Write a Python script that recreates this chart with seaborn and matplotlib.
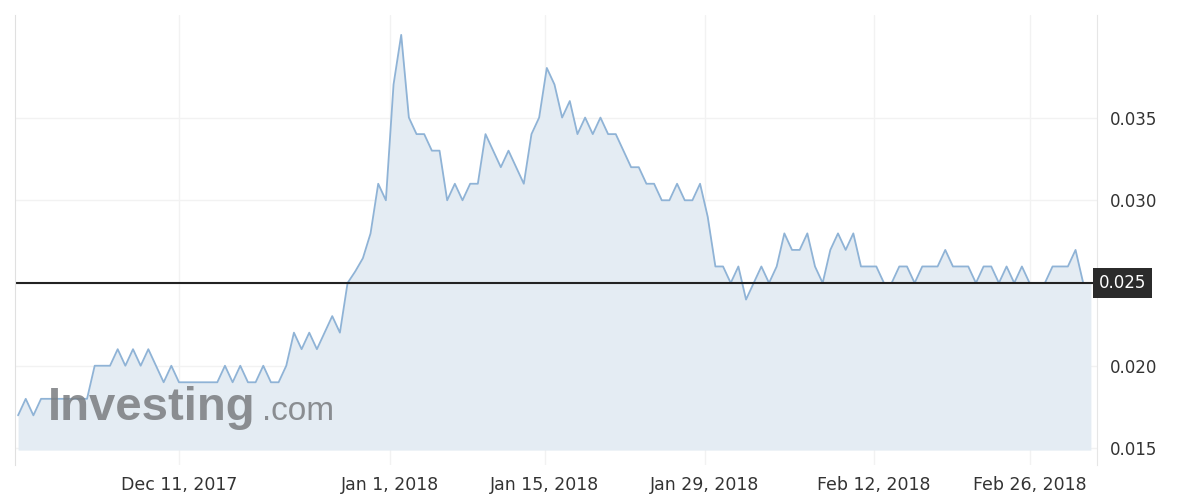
#!/usr/bin/env python3
"""Price chart, Nov 2017 - Feb 2018, investing.com style."""

import matplotlib
matplotlib.use("Agg")
import matplotlib.pyplot as plt
import pandas as pd
import seaborn as sns

PRICES = [
    0.017, 0.018, 0.017, 0.018, 0.018, 0.018, 0.018, 0.018, 0.018, 0.018,
    0.020, 0.020, 0.020, 0.021, 0.020, 0.021, 0.020, 0.021, 0.020, 0.019,
    0.020, 0.019, 0.019, 0.019, 0.019, 0.019, 0.019, 0.020, 0.019, 0.020,
    0.019, 0.019, 0.020, 0.019, 0.019, 0.020, 0.022, 0.021, 0.022, 0.021,
    0.022, 0.023, 0.022, 0.025, 0.0257, 0.0265, 0.028, 0.031, 0.030, 0.037,
    0.040, 0.035, 0.034, 0.034, 0.033, 0.033, 0.030, 0.031, 0.030, 0.031,
    0.031, 0.034, 0.033, 0.032, 0.033, 0.032, 0.031, 0.034, 0.035, 0.038,
    0.037, 0.035, 0.036, 0.034, 0.035, 0.034, 0.035, 0.034, 0.034, 0.033,
    0.032, 0.032, 0.031, 0.031, 0.030, 0.030, 0.031, 0.030, 0.030, 0.031,
    0.029, 0.026, 0.026, 0.025, 0.026, 0.024, 0.025, 0.026, 0.025, 0.026,
    0.028, 0.027, 0.027, 0.028, 0.026, 0.025, 0.027, 0.028, 0.027, 0.028,
    0.026, 0.026, 0.026, 0.025, 0.025, 0.026, 0.026, 0.025, 0.026, 0.026,
    0.026, 0.027, 0.026, 0.026, 0.026, 0.025, 0.026, 0.026, 0.025, 0.026,
    0.025, 0.026, 0.025, 0.025, 0.025, 0.026, 0.026, 0.026, 0.027, 0.025,
    0.025,
]
DATE_LABELS = ["Dec 11, 2017", "Jan 1, 2018", "Jan 15, 2018",
               "Jan 29, 2018", "Feb 12, 2018", "Feb 26, 2018"]
DATE_IDX = [21, 48.6, 68.7, 89.6, 111.7, 132]
Y_TICKS = [0.015, 0.020, 0.025, 0.030, 0.035]
LAST = 0.025


def main():
    df = pd.DataFrame({"i": range(len(PRICES)), "price": PRICES})

    sns.set_style("white")
    fig = plt.figure(figsize=(11.77, 4.95), dpi=100)
    ax = fig.add_axes([15 / 1177, 30 / 495, (1097 - 15) / 1177, (465 - 15) / 495])

    ax.fill_between(df["i"], 0.0149, df["price"], color="#e4ecf3", lw=0)
    sns.lineplot(data=df, x="i", y="price", ax=ax, color="#8fb3d6", lw=1.3)

    ax.set_xlim(-0.4, len(PRICES) - 0.2)
    ax.set_ylim(0.0140, 0.0412)
    ax.yaxis.tick_right()
    ax.set_yticks(Y_TICKS)
    # the current-price box replaces the 0.025 label
    ax.set_yticklabels(["" if v == LAST else f"{v:.3f}" for v in Y_TICKS],
                       fontsize=12, color="#333333")
    ax.set_xticks(DATE_IDX)
    ax.set_xticklabels(DATE_LABELS, fontsize=12.5, color="#333333")
    ax.tick_params(length=0, pad=8)
    ax.tick_params(axis="y", pad=9)
    ax.set_xlabel("")
    ax.set_ylabel("")
    ax.grid(True, color="#f2f2f2", lw=1)
    for s in ["top", "bottom"]:
        ax.spines[s].set_visible(False)
    ax.spines["left"].set_color("#e0e0e0")
    ax.spines["right"].set_color("#e6e6e6")

    ax.axhline(LAST, color="#222222", lw=1.5)
    ax.text(1.002, LAST, f"{LAST:.3f}", transform=ax.get_yaxis_transform(),
            va="center", ha="left", fontsize=12, color="white",
            bbox=dict(boxstyle="square,pad=0.35", fc="#2b2b2b", ec="none"))

    ax.text(0.03, 0.1, "Investing", transform=ax.transAxes, fontsize=34,
            fontweight="bold", color="#7a7d80", alpha=0.85, family="Liberation Sans")
    ax.text(0.228, 0.1, ".com", transform=ax.transAxes, fontsize=24,
            color="#7a7d80", alpha=0.85, family="Liberation Sans")

    fig.savefig("out.png", dpi=100)


if __name__ == "__main__":
    main()
